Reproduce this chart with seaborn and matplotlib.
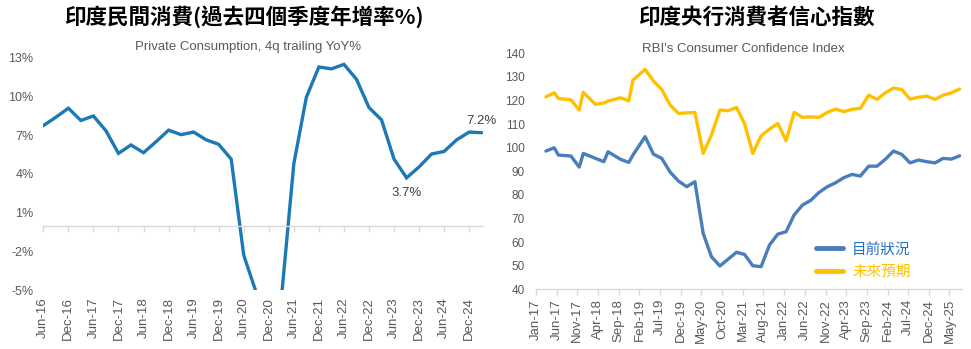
import pandas as pd
import matplotlib
matplotlib.use("Agg")
import matplotlib.pyplot as plt
from matplotlib.ticker import FuncFormatter
import seaborn as sns

# ---- India private consumption, 4-quarter trailing YoY (%) ----
quarters = [
    "Jun-16", "Sep-16", "Dec-16", "Mar-17", "Jun-17", "Sep-17", "Dec-17", "Mar-18",
    "Jun-18", "Sep-18", "Dec-18", "Mar-19", "Jun-19", "Sep-19", "Dec-19", "Mar-20",
    "Jun-20", "Sep-20", "Dec-20", "Mar-21", "Jun-21", "Sep-21", "Dec-21", "Mar-22",
    "Jun-22", "Sep-22", "Dec-22", "Mar-23", "Jun-23", "Sep-23", "Dec-23", "Mar-24",
    "Jun-24", "Sep-24", "Dec-24", "Mar-25",
]
consumption_yoy = [
    7.75, 8.4, 9.1, 8.15, 8.5, 7.35, 5.6, 6.25,
    5.65, 6.5, 7.4, 7.05, 7.25, 6.65, 6.3, 5.15,
    -2.3, -5.2, -6.3, -5.7, 4.8, 9.95, 12.3, 12.15,
    12.5, 11.35, 9.15, 8.2, 5.15, 3.7, 4.55, 5.55,
    5.75, 6.65, 7.25, 7.2,
]
# quarters whose value is written on the chart, with the label's side
labelled_quarters = {"Sep-23": "below", "Mar-25": "above"}
yoy_ticks = [-5, -2, 1, 4, 7, 10, 13]

# ---- RBI Consumer Confidence Survey rounds ----
survey_months = [
    "2017-03", "2017-05", "2017-06", "2017-09", "2017-11", "2017-12",
    "2018-03", "2018-05", "2018-06", "2018-09", "2018-11", "2018-12",
    "2019-03", "2019-05", "2019-07", "2019-09", "2019-11",
    "2020-01", "2020-03", "2020-05", "2020-07", "2020-09", "2020-11",
    "2021-01", "2021-03", "2021-05", "2021-07", "2021-09", "2021-11",
    "2022-01", "2022-03", "2022-05", "2022-07", "2022-09", "2022-11",
    "2023-01", "2023-03", "2023-05", "2023-07", "2023-09", "2023-11",
    "2024-01", "2024-03", "2024-05", "2024-07", "2024-09", "2024-11",
    "2025-01", "2025-03", "2025-05", "2025-07",
]
current_situation = [
    98.6, 100.0, 96.9, 96.5, 91.8, 97.6,
    95.5, 94.1, 98.3, 95.1, 93.8, 96.9,
    104.7, 97.3, 95.5, 89.7, 85.9,
    83.5, 85.6, 63.7, 53.8, 49.9, 52.8,
    55.7, 54.8, 50.0, 49.6, 58.8, 63.4,
    64.4, 71.5, 75.7, 77.7, 81.1, 83.5,
    85.2, 87.3, 88.7, 88.0, 92.2, 92.2,
    95.1, 98.6, 97.2, 93.6, 94.8, 94.1,
    93.6, 95.5, 95.2, 96.6,
]
future_expectations = [
    121.6, 123.3, 120.9, 120.3, 116.0, 123.5,
    118.4, 119.0, 119.8, 121.2, 119.9, 128.7,
    133.2, 128.3, 124.7, 118.1, 114.6,
    114.8, 115.0, 97.6, 105.4, 116.0, 115.7,
    117.1, 110.3, 97.6, 105.0, 107.9, 110.3,
    103.0, 115.0, 112.9, 113.1, 112.9, 115.0,
    116.4, 115.3, 116.3, 116.7, 122.3, 120.5,
    123.3, 125.3, 124.7, 120.6, 121.4, 121.9,
    120.5, 122.3, 123.3, 124.9,
]
series_names = ["目前狀況", "未來預期"]
cci_ticks = list(range(40, 141, 10))

# ---- styling ----
sns.set_theme(style="white")
plt.rcParams["font.family"] = ["Liberation Sans", "Noto Sans CJK TC", "DejaVu Sans"]
CJK = ["Noto Sans CJK TC", "DejaVu Sans"]
TEXT_GRAY = "#595959"
AXIS_GRAY = "#d9d9d9"
LINE_BLUE = "#1b79b5"
CCI_BLUE = "#4a7ebb"
CCI_GOLD = "#ffc000"

fig = plt.figure(figsize=(9.71, 3.49), dpi=100)

# ================= left panel =================
ax1 = fig.add_axes([0.0446, 0.169, 0.4528, 0.665])
cons = pd.DataFrame({"pos": range(len(quarters)), "quarter": quarters,
                     "yoy": consumption_yoy})
sns.lineplot(data=cons, x="pos", y="yoy", ax=ax1, color=LINE_BLUE,
             linewidth=2.4, solid_joinstyle="miter")
ax1.set_xlim(0, len(quarters) - 0.9)
ax1.set_ylim(-5, 13)
ax1.set_yticks(yoy_ticks)
ax1.yaxis.set_major_formatter(FuncFormatter(lambda v, _: f"{v:.0f}%"))
ax1.tick_params(axis="y", length=0, pad=7, labelsize=9, labelcolor=TEXT_GRAY)
ax1.set_xlabel("")
ax1.set_ylabel("")
for side in ["left", "right", "top"]:
    ax1.spines[side].set_visible(False)
# the category axis line runs along 0%, its labels sit below the plot
ax1.spines["bottom"].set_position(("data", 0))
ax1.spines["bottom"].set_color(AXIS_GRAY)
ax1.spines["bottom"].set_linewidth(1.0)
tick_pos = list(range(0, len(quarters), 2))
ax1.set_xticks(tick_pos)
ax1.tick_params(axis="x", length=4, width=1.0, color=AXIS_GRAY,
                direction="out", labelbottom=False, bottom=True)
sec = ax1.secondary_xaxis(0)
sec.set_xticks(tick_pos, labels=[quarters[i] for i in tick_pos])
sec.tick_params(axis="x", length=0, pad=5, labelsize=9.5,
                labelcolor=TEXT_GRAY, labelrotation=90)
sec.spines["bottom"].set_visible(False)

for q, side in labelled_quarters.items():
    i = quarters.index(q)
    v = consumption_yoy[i]
    ax1.annotate(f"{v:.1f}%", (i, v),
                 xytext=(0, -15 if side == "below" else 12),
                 textcoords="offset pixels", ha="center", va="center",
                 fontsize=9.5, color="#404040")

fig.text(0.252, 0.952, "印度民間消費(過去四個季度年增率%)", ha="center", va="center",
         fontsize=15.5, fontweight="bold", family=CJK, color="black")
fig.text(0.255, 0.866, "Private Consumption, 4q trailing YoY%", ha="center",
         va="center", fontsize=9.5, color=TEXT_GRAY)

# ================= right panel =================
ax2 = fig.add_axes([0.552, 0.171, 0.4387, 0.676])
# each survey round is drawn in the middle of its month
dates = pd.to_datetime(survey_months) + pd.Timedelta(days=14)
cci = pd.DataFrame({"date": dates,
                    series_names[0]: current_situation,
                    series_names[1]: future_expectations})
cci_long = cci.melt(id_vars="date", var_name="series", value_name="index")
sns.lineplot(data=cci_long, x="date", y="index", hue="series",
             hue_order=series_names, palette=[CCI_BLUE, CCI_GOLD],
             linewidth=2.4, ax=ax2, legend=False)
ax2.set_xlim(pd.Timestamp("2017-01-01"), pd.Timestamp("2025-08-01"))
ax2.set_ylim(40, 140)
ax2.set_yticks(cci_ticks)
ax2.tick_params(axis="y", length=0, pad=8, labelsize=8.5, labelcolor=TEXT_GRAY)
xt = pd.date_range("2017-01-01", "2025-05-01", freq="5MS")
ax2.set_xticks(xt, labels=[d.strftime("%b-%y") for d in xt])
ax2.tick_params(axis="x", length=4, width=1.0, color=AXIS_GRAY, direction="out",
                bottom=True, pad=3, labelsize=9.5, labelcolor=TEXT_GRAY,
                labelrotation=90)
ax2.set_xlabel("")
ax2.set_ylabel("")
for side in ["left", "right", "top"]:
    ax2.spines[side].set_visible(False)
ax2.spines["bottom"].set_color(AXIS_GRAY)
ax2.spines["bottom"].set_linewidth(1.0)

handles = [plt.Line2D([], [], color=CCI_BLUE, linewidth=3.5),
           plt.Line2D([], [], color=CCI_GOLD, linewidth=3.5)]
leg = ax2.legend(handles, series_names, loc="upper left",
                 bbox_to_anchor=(0.840, 0.305), bbox_transform=fig.transFigure,
                 frameon=False, borderpad=0, borderaxespad=0, handlelength=1.9,
                 handletextpad=0.6, labelspacing=0.6,
                 prop={"family": CJK, "size": 10.5})
for txt, col in zip(leg.get_texts(), ["#2270c0", CCI_GOLD]):
    txt.set_color(col)

fig.text(0.780, 0.952, "印度央行消費者信心指數", ha="center", va="center",
         fontsize=15.5, fontweight="bold", family=CJK, color="black")
fig.text(0.765, 0.860, "RBI's Consumer Confidence Index", ha="center",
         va="center", fontsize=9.5, color=TEXT_GRAY)

fig.savefig("out.png", dpi=100, facecolor="white")
